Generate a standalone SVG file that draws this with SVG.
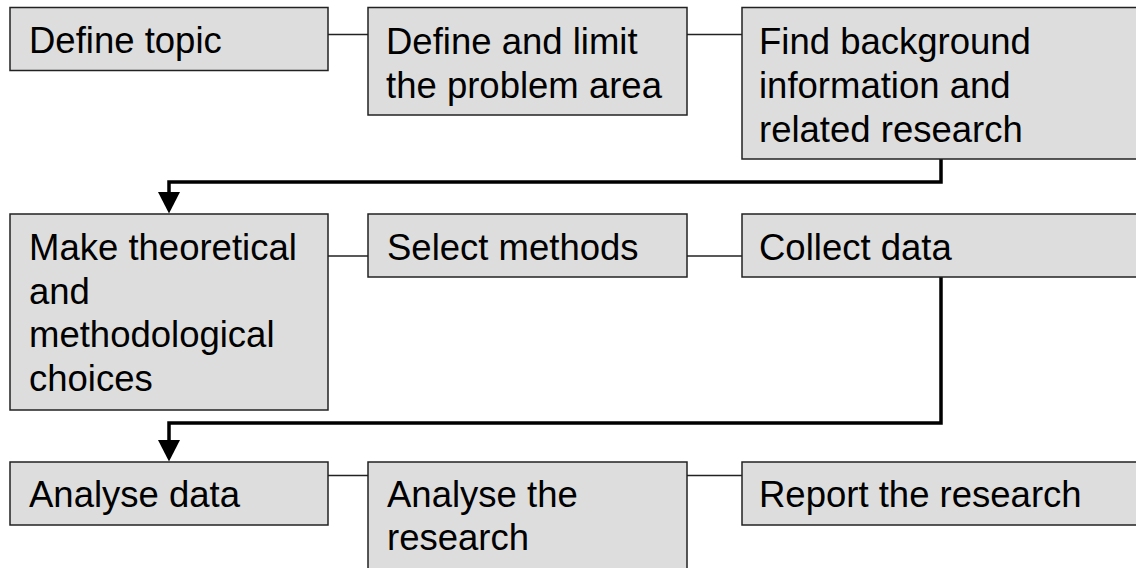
<svg xmlns="http://www.w3.org/2000/svg" width="1136" height="568" viewBox="0 0 1136 568">
<style>
.box{fill:#dddddd;stroke:#222222;stroke-width:1.5}
.t{font-family:"Liberation Sans",Arial,sans-serif;font-size:36.5px;fill:#000000}
.link{fill:none;stroke:#222222;stroke-width:1.5}
.arrow{fill:none;stroke:#000000;stroke-width:3.5}
.head{fill:#000000}
</style>
<rect width="1136" height="568" fill="#ffffff"/>
<g id="connectors">
<line class="link" x1="328" y1="34.5" x2="368" y2="34.5"/>
<line class="link" x1="687" y1="34.5" x2="742" y2="34.5"/>
<line class="link" x1="328" y1="256" x2="368" y2="256"/>
<line class="link" x1="687" y1="256" x2="742" y2="256"/>
<line class="link" x1="328" y1="475.5" x2="368" y2="475.5"/>
<line class="link" x1="687" y1="475.5" x2="742" y2="475.5"/>
<path class="arrow" d="M941 159 V182 H169 V194"/>
<polygon class="head" points="158,192 180,192 169,213.5"/>
<path class="arrow" d="M941 277 V423 H169 V442"/>
<polygon class="head" points="158,440 180,440 169,461.5"/>
</g>
<g id="n1"><rect class="box" x="10" y="7.5" width="318" height="63"/><text class="t" x="29" y="53">Define topic</text></g>
<g id="n2"><rect class="box" x="368" y="7.5" width="319" height="107.5"/><text class="t" x="386" y="54">Define and limit</text><text class="t" x="386" y="98">the problem area</text></g>
<g id="n3"><rect class="box" x="742" y="7.5" width="400" height="151.5"/><text class="t" x="759" y="54">Find background</text><text class="t" x="759" y="98">information and</text><text class="t" x="759" y="142">related research</text></g>
<g id="n4"><rect class="box" x="10" y="214" width="318" height="196"/><text class="t" x="29" y="260">Make theoretical</text><text class="t" x="29" y="304">and</text><text class="t" x="29" y="347">methodological</text><text class="t" x="29" y="391">choices</text></g>
<g id="n5"><rect class="box" x="368" y="214" width="319" height="63"/><text class="t" x="387" y="260">Select methods</text></g>
<g id="n6"><rect class="box" x="742" y="214" width="400" height="63"/><text class="t" x="759" y="260">Collect data</text></g>
<g id="n7"><rect class="box" x="10" y="462" width="318" height="63"/><text class="t" x="29" y="507">Analyse data</text></g>
<g id="n8"><rect class="box" x="368" y="462" width="319" height="120"/><text class="t" x="387" y="507">Analyse the</text><text class="t" x="387" y="550">research</text></g>
<g id="n9"><rect class="box" x="742" y="462" width="400" height="63"/><text class="t" x="759" y="507">Report the research</text></g>
</svg>
